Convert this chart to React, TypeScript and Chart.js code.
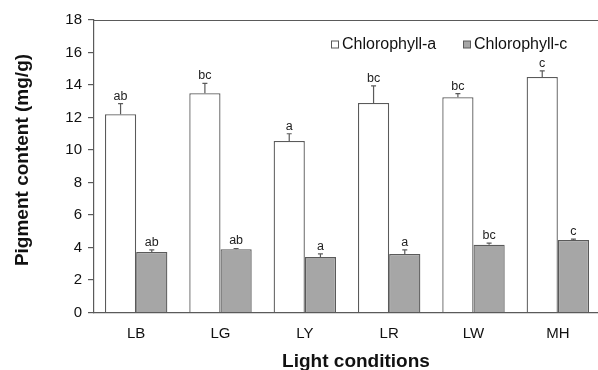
import React, { useEffect, useRef } from "react";
import { Chart, registerables } from "chart.js";

Chart.register(...registerables);

const categories = ["LB", "LG", "LY", "LR", "LW", "MH"];
const chlA = [12.2, 13.5, 10.55, 12.9, 13.25, 14.5];
const chlAErr = [0.65, 0.6, 0.45, 1.05, 0.22, 0.37];
const chlC = [3.72, 3.89, 3.41, 3.6, 4.17, 4.46];
const chlCErr = [0.13, 0.05, 0.2, 0.25, 0.1, 0.06];
const lettersA = ["ab", "bc", "a", "bc", "bc", "c"];
const lettersC = ["ab", "ab", "a", "a", "bc", "c"];
const yTicks = [0, 2, 4, 6, 8, 10, 12, 14, 16, 18];

const FONT = "'Liberation Sans', Arial, sans-serif";
const LINE = "#5a5a5a";

const overlayPlugin = {
  id: "overlay",
  afterDatasetsDraw(chart: any) {
    const ctx = chart.ctx;
    const y = chart.scales.y;
    const area = chart.chartArea;
    ctx.save();
    // top frame line
    ctx.strokeStyle = LINE;
    ctx.lineWidth = 1.2;
    ctx.beginPath();
    ctx.moveTo(area.left, area.top + 0.5);
    ctx.lineTo(area.right, area.top + 0.5);
    ctx.stroke();

    const errs = [chlAErr, chlCErr];
    const vals = [chlA, chlC];
    const letters = [lettersA, lettersC];
    for (let d = 0; d < 2; d++) {
      const meta = chart.getDatasetMeta(d);
      meta.data.forEach((bar: any, i: number) => {
        const x = bar.x;
        const top = y.getPixelForValue(vals[d][i]);
        const et = y.getPixelForValue(vals[d][i] + errs[d][i]);
        ctx.strokeStyle = LINE;
        ctx.lineWidth = 1.2;
        ctx.beginPath();
        ctx.moveTo(x, top);
        ctx.lineTo(x, et);
        ctx.moveTo(x - 2.5, et);
        ctx.lineTo(x + 2.5, et);
        ctx.stroke();
        ctx.fillStyle = "#222";
        ctx.font = `12.5px ${FONT}`;
        ctx.textAlign = "center";
        ctx.textBaseline = "alphabetic";
        ctx.fillText(letters[d][i], x, et - 4);
      });
    }

    // legend
    ctx.font = `16px ${FONT}`;
    ctx.textAlign = "left";
    ctx.textBaseline = "middle";
    const ly = 44.5;
    ctx.lineWidth = 1;
    ctx.strokeStyle = LINE;
    ctx.fillStyle = "#ffffff";
    ctx.fillRect(331.5, ly - 3.5, 7, 7);
    ctx.strokeRect(331.5, ly - 3.5, 7, 7);
    ctx.fillStyle = "#111";
    ctx.fillText("Chlorophyll-a", 342, ly);
    ctx.fillStyle = "#a6a6a6";
    ctx.fillRect(463.5, ly - 3.5, 7, 7);
    ctx.strokeRect(463.5, ly - 3.5, 7, 7);
    ctx.fillStyle = "#111";
    ctx.fillText("Chlorophyll-c", 474, ly);

    // axis titles
    ctx.font = `bold 19px ${FONT}`;
    ctx.fillStyle = "#111";
    ctx.textAlign = "center";
    ctx.textBaseline = "alphabetic";
    ctx.fillText("Light conditions", 356, 367);
    ctx.save();
    ctx.translate(28, 160);
    ctx.rotate(-Math.PI / 2);
    ctx.fillText("Pigment content (mg/g)", 0, 0);
    ctx.restore();
    ctx.restore();
  },
};

export default function App() {
  const ref = useRef<HTMLCanvasElement>(null);
  useEffect(() => {
    if (!ref.current) return;
    const chart = new Chart(ref.current, {
      type: "bar",
      data: {
        labels: categories,
        datasets: [
          {
            label: "Chlorophyll-a",
            data: chlA,
            backgroundColor: "#ffffff",
            borderColor: LINE,
            borderWidth: 1.3,
            categoryPercentage: 0.74,
            barPercentage: 1,
          },
          {
            label: "Chlorophyll-c",
            data: chlC,
            backgroundColor: "#a6a6a6",
            borderColor: LINE,
            borderWidth: 1.3,
            categoryPercentage: 0.74,
            barPercentage: 1,
          },
        ],
      },
      options: {
        animation: false,
        responsive: false,
        maintainAspectRatio: false,
        layout: { padding: { top: 20, right: 2, left: 0, bottom: 0 } },
        plugins: { legend: { display: false }, tooltip: { enabled: false } },
        scales: {
          x: {
            grid: { display: false, drawTicks: false },
            border: { display: true, color: LINE, width: 1.2 },
            ticks: {
              color: "#111",
              font: { family: FONT, size: 15 },
              padding: 12,
            },
            afterFit(scale: any) {
              scale.height = 57.5;
            },
          },
          y: {
            min: 0,
            max: 18,
            afterBuildTicks(scale: any) {
              scale.ticks = yTicks.map((v) => ({ value: v }));
            },
            grid: {
              drawOnChartArea: false,
              drawTicks: true,
              tickLength: 6,
              color: LINE,
              lineWidth: 1.2,
            },
            border: { display: true, color: LINE, width: 1.2 },
            ticks: {
              color: "#111",
              font: { family: FONT, size: 15 },
              padding: 6,
            },
            afterFit(scale: any) {
              scale.width = 94;
            },
          },
        },
      },
      plugins: [overlayPlugin],
    });
    return () => chart.destroy();
  }, []);
  return (
    <div
      style={{
        position: "fixed",
        left: 0,
        top: 0,
        width: 598,
        height: 370,
        overflow: "hidden",
        background: "#fff",
      }}
    >
      <canvas ref={ref} width={602} height={370} style={{ width: 602, height: 370 }} />
    </div>
  );
}
